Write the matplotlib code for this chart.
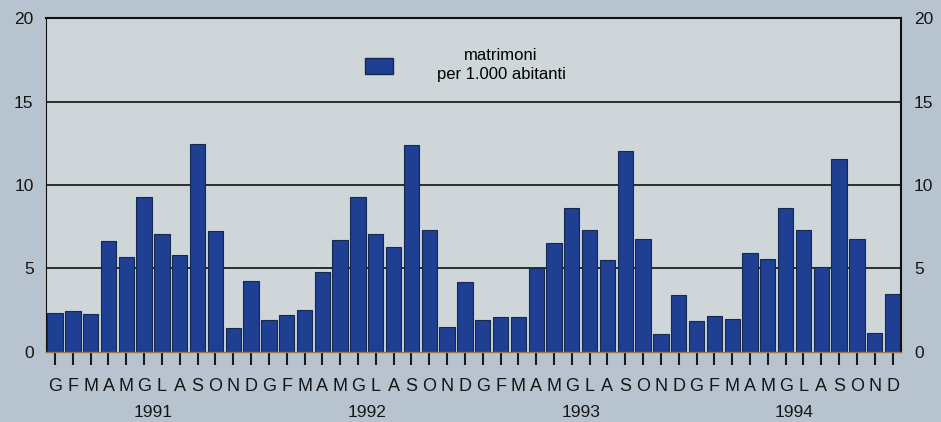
import numpy as np
import matplotlib.pyplot as plt
from matplotlib.patches import Patch

plt.rcParams['font.family'] = ['Liberation Sans', 'DejaVu Sans']

# dati: matrimoni per 1.000 abitanti, mensili 1991-1994
anni = ['1991', '1992', '1993', '1994']
mesi = ['G', 'F', 'M', 'A', 'M', 'G', 'L', 'A', 'S', 'O', 'N', 'D']
v1991 = [2.33, 2.43, 2.30, 6.67, 5.69, 9.26, 7.07, 5.83, 12.46, 7.23, 1.44, 4.27]
v1992 = [1.90, 2.20, 2.53, 4.77, 6.69, 9.28, 7.09, 6.27, 12.38, 7.29, 1.48, 4.21]
v1993 = [1.94, 2.10, 2.10, 5.05, 6.55, 8.65, 7.29, 5.49, 12.06, 6.75, 1.10, 3.42]
v1994 = [1.86, 2.14, 1.96, 5.93, 5.59, 8.60, 7.33, 5.09, 11.57, 6.79, 1.16, 3.46]

valori = v1991 + v1992 + v1993 + v1994
x = np.arange(len(valori))

fig = plt.figure(figsize=(9.41, 4.22), dpi=100)
fig.patch.set_facecolor('#b7c4cf')
ax = fig.add_axes([0.049, 0.166, 0.909, 0.791])
ax.set_facecolor('#ced6da')

for y in [5, 10, 15]:
    ax.axhline(y, color='#111111', lw=1.2, zorder=1)

ax.bar(x, valori, width=0.86, color='#1e3f92', edgecolor='#15294f',
       linewidth=0.8, zorder=2)

ax.set_xlim(-0.5, len(valori) - 0.5)
ax.set_ylim(0, 20)
ax.set_yticks([0, 5, 10, 15, 20])
ax.tick_params(axis='y', length=0, labelsize=12.5, pad=9,
               labelleft=True, labelright=True, labelcolor='#151515')
ax.set_xticks(x)
ax.set_xticklabels(mesi * len(anni), fontsize=13)
ax.tick_params(axis='x', which='major', bottom=True, direction='out',
               length=9, width=1.5, pad=10, color='#1a1a1a',
               labelcolor='#151515')

for s in ['top', 'right', 'left']:
    ax.spines[s].set_color('#111111')
    ax.spines[s].set_linewidth(1.5)
ax.spines['left'].set_linewidth(0.8)
ax.spines['bottom'].set_color('#9a7a45')
ax.spines['bottom'].set_linewidth(1.0)

for i, a in enumerate(anni):
    ax.text(i * 12 + 5.5, -0.18, a, transform=ax.get_xaxis_transform(),
            ha='center', va='center', fontsize=12.5, color='#151515')

ax.legend([Patch(facecolor='#1e3f92', edgecolor='#15294f')],
          ['matrimoni\nper 1.000 abitanti'], loc='upper center',
          bbox_to_anchor=(0.49, 0.955), frameon=False, fontsize=12,
          handlelength=1.7, handleheight=1.1, handletextpad=2.6)
leg = ax.get_legend()
for t in leg.get_texts():
    t.set_multialignment('center')
    t.set_linespacing(1.35)

fig.savefig('out.png', dpi=100, facecolor=fig.get_facecolor())
